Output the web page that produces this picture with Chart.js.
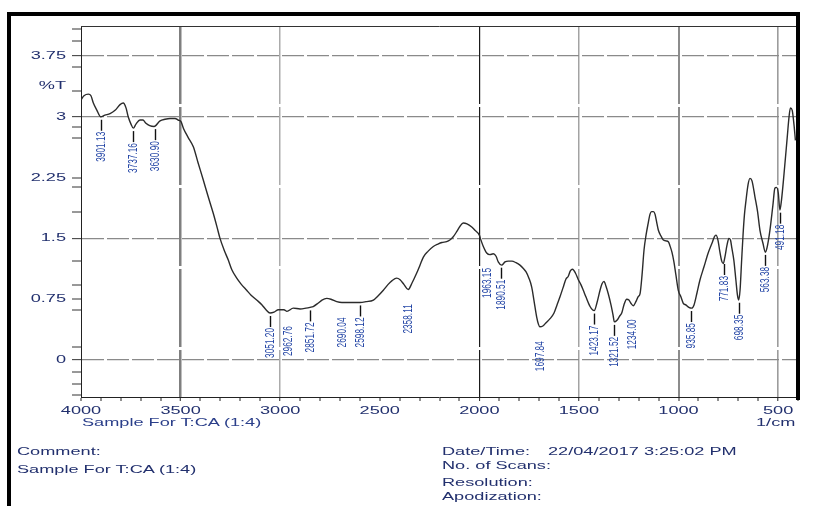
<!DOCTYPE html>
<html>
<head>
<meta charset="utf-8">
<script src="https://cdn.jsdelivr.net/npm/chart.js@4.4.1/dist/chart.umd.min.js"></script>
<style>
  html, body { margin: 0; padding: 0; background: #fff; width: 815px; height: 506px; overflow: hidden; }
  #wrap { position: relative; width: 815px; height: 506px; }
  #spectrum { position: absolute; left: 0; top: 0; }
  .frame { position: absolute; left: 7px; top: 12px; width: 793px; height: 520px; border-left: 4px solid #000; border-top: 4px solid #000; box-sizing: border-box; pointer-events: none; }
  .frame-right { position: absolute; left: 796px; top: 12px; width: 4px; height: 388px; background: #000; pointer-events: none; }
  .t { position: absolute; font: 11px "Liberation Sans", Arial, sans-serif; color: #22306e; transform: scaleX(1.65); transform-origin: 0 50%; white-space: nowrap; line-height: 12px; }
</style>
</head>
<body>
<div id="wrap">
  <canvas id="spectrum" width="815" height="506"></canvas>
  <div class="frame"></div>
  <div class="frame-right"></div>
  <div class="t" style="left:82px;top:416px;color:#2b3f8a">Sample For T:CA (1:4)</div>
  <div class="t" style="left:756px;top:416px">1/cm</div>
  <div class="t" style="left:17px;top:445px">Comment:</div>
  <div class="t" style="left:17px;top:463px">Sample For T:CA (1:4)</div>
  <div class="t" style="left:442px;top:445px">Date/Time:</div>
  <div class="t" style="left:548px;top:445px">22/04/2017 3:25:02 PM</div>
  <div class="t" style="left:442px;top:459px">No. of Scans:</div>
  <div class="t" style="left:442px;top:476px">Resolution:</div>
  <div class="t" style="left:442px;top:490px">Apodization:</div>
</div>
<script>
// IR transmittance spectrum, wavenumber (1/cm) vs %T
const wavenumbers = [
  4000,3985,3963,3950,3938,3920,3901,3880,3854,3829,
  3804,3788,3774,3763,3749,3737,3724,3704,3689,3674,
  3655,3633,3603,3578,3553,3528,3512,3498,3486,3463,
  3436,3413,3386,3362,3336,3317,3302,3282,3260,3242,
  3218,3197,3168,3146,3118,3091,3071,3051,3031,3009,
  2981,2966,2934,2900,2870,2850,2834,2810,2790,2766,
  2745,2716,2690,2659,2629,2599,2569,2532,2509,2482,
  2459,2438,2415,2398,2378,2357,2338,2315,2298,2281,
  2258,2231,2208,2188,2164,2148,2131,2112,2097,2081,
  2062,2038,2022,2000,1992,1980,1963,1947,1930,1916,
  1905,1888,1871,1855,1836,1816,1796,1779,1766,1751,
  1737,1726,1712,1703,1696,1681,1665,1645,1625,1610,
  1595,1580,1565,1554,1543,1532,1517,1503,1490,1478,
  1465,1444,1432,1423,1410,1394,1384,1374,1364,1353,
  1339,1329,1322,1309,1296,1285,1274,1260,1249,1239,
  1227,1214,1203,1193,1183,1173,1163,1152,1143,1135,
  1126,1118,1108,1101,1088,1076,1063,1051,1043,1033,
  1023,1013,1001,988,976,963,948,934,922,907,
  892,872,851,837,829,820,812,802,792,783,
  775,767,757,747,739,732,722,712,704,698,
  691,683,676,669,661,651,641,631,616,603,
  591,576,564,556,541,526,516,508,499,491,
  483,470,454,445,438,429,420,413
];
const transmittance = [
  3.21,3.26,3.28,3.26,3.17,3.08,3.00,3.02,3.04,3.08,
  3.15,3.17,3.11,3.00,2.91,2.86,2.91,2.96,2.96,2.92,
  2.89,2.88,2.95,2.97,2.98,2.98,2.96,2.94,2.86,2.75,
  2.63,2.44,2.22,2.02,1.81,1.64,1.50,1.36,1.23,1.11,
  1.01,0.94,0.86,0.80,0.74,0.68,0.62,0.58,0.59,0.62,
  0.62,0.60,0.64,0.63,0.64,0.65,0.66,0.70,0.74,0.76,
  0.75,0.72,0.71,0.71,0.71,0.71,0.72,0.74,0.79,0.86,
  0.93,0.98,1.01,0.99,0.93,0.87,0.95,1.07,1.17,1.27,
  1.34,1.40,1.43,1.45,1.46,1.48,1.52,1.59,1.65,1.69,
  1.68,1.64,1.60,1.54,1.48,1.40,1.32,1.30,1.31,1.28,
  1.21,1.17,1.21,1.22,1.22,1.20,1.17,1.13,1.09,1.01,
  0.90,0.74,0.53,0.44,0.41,0.42,0.46,0.51,0.58,0.68,
  0.78,0.89,1.00,1.03,1.10,1.12,1.07,0.99,0.93,0.86,
  0.78,0.66,0.62,0.61,0.70,0.86,0.94,0.97,0.91,0.82,
  0.68,0.56,0.47,0.49,0.54,0.58,0.68,0.75,0.74,0.70,
  0.67,0.72,0.78,0.82,1.05,1.36,1.54,1.69,1.80,1.83,
  1.83,1.80,1.68,1.60,1.53,1.48,1.47,1.46,1.41,1.33,
  1.21,1.05,0.86,0.78,0.70,0.68,0.65,0.64,0.68,0.83,
  0.99,1.15,1.32,1.41,1.46,1.52,1.54,1.48,1.33,1.22,
  1.19,1.27,1.41,1.50,1.48,1.38,1.23,0.99,0.80,0.74,
  0.86,1.23,1.54,1.79,1.97,2.16,2.24,2.21,2.01,1.83,
  1.60,1.44,1.33,1.38,1.60,1.91,2.12,2.13,2.06,1.85,
  1.97,2.30,2.75,3.00,3.11,3.08,2.90,2.71
];

// picked peaks (1/cm); the label text is the value itself
const peakWavenumbers = [3901.13, 3737.16, 3630.90, 3051.20, 2962.76, 2851.72, 2690.04, 2598.12,
  2358.11, 1963.15, 1890.51, 1697.84, 1423.17, 1321.52, 1234.00, 935.85, 771.83, 698.35, 563.38, 491.18];
// peaks printed without a leader line
const peaksWithoutLeader = [2962.76, 2690.04, 2358.11, 1963.15, 1697.84, 1234.00];

// axis ticks
const yTickValues = [3.75, 3, 2.25, 1.5, 0.75, 0];
const yTickLabels = ['3.75', '3', '2.25', '1.5', '0.75', '0'];
const yMinorTicks = [4.08, 3.93, 3.61, 3.32, 2.88, 2.74, 2.13, 1.82, 1.22, 0.93, 0.62, 0.16, -0.15, -0.29, -0.43];
const yGridValues = [3.75, 3, 1.5, 0];
const yUnitLabel = '%T';
const yUnitValue = 3.38;
const xTickValues = [4000, 3500, 3000, 2500, 2000, 1500, 1000, 500];
const xTickLabels = ['4000', '3500', '3000', '2500', '2000', '1500', '1000', '500'];

const TEXT_COLOR = '#22306e';
const STRETCH = 1.65;
const FONT = '"Liberation Sans", Arial, sans-serif';

// vertical grid line looks, keyed by wavenumber
const xGridStyle = {
  3500: { color: '#7f7f7f', width: 2.5 },
  3000: { color: '#ababab', width: 1.5 },
  2000: { color: '#1a1a1a', width: 1.2 },
  1500: { color: '#a3a3a3', width: 1.5 },
  1000: { color: '#8c8c8c', width: 2 },
  500:  { color: '#9c9c9c', width: 1.6 }
};

function transmittanceAt(w) {
  for (let i = 0; i < wavenumbers.length - 1; i++) {
    const a = wavenumbers[i], b = wavenumbers[i + 1];
    if (w <= a && w >= b) {
      const f = (a - w) / (a - b);
      return transmittance[i] + f * (transmittance[i + 1] - transmittance[i]);
    }
  }
  return transmittance[transmittance.length - 1];
}

function drawStretched(ctx, text, px, py, align) {
  ctx.save();
  ctx.translate(px, py);
  ctx.scale(STRETCH, 1);
  ctx.textAlign = align;
  ctx.textBaseline = 'middle';
  ctx.fillText(text, 0, 0);
  ctx.restore();
}

const labelPlugin = {
  id: 'spectrumLabels',
  afterDraw(chart) {
    const { ctx, chartArea: a, scales: { x, y } } = chart;
    ctx.save();
    // top edge of the plot box
    ctx.strokeStyle = '#333';
    ctx.lineWidth = 1;
    ctx.beginPath();
    ctx.moveTo(a.left, a.top + 0.5);
    ctx.lineTo(a.right, a.top + 0.5);
    ctx.stroke();

    // axis tick labels
    ctx.fillStyle = TEXT_COLOR;
    ctx.font = '11px ' + FONT;
    yTickValues.forEach((v, i) => drawStretched(ctx, yTickLabels[i], 66, y.getPixelForValue(v), 'right'));
    drawStretched(ctx, yUnitLabel, 66, y.getPixelForValue(yUnitValue), 'right');
    xTickValues.forEach((v, i) => drawStretched(ctx, xTickLabels[i], x.getPixelForValue(v), 411, 'center'));

    // peak annotations
    peakWavenumbers.forEach((w) => {
      const px = Math.round(x.getPixelForValue(w)) + 0.5;
      const cy = y.getPixelForValue(transmittanceAt(w));
      if (!peaksWithoutLeader.includes(w)) {
        ctx.strokeStyle = '#111';
        ctx.lineWidth = 1.4;
        ctx.beginPath();
        ctx.moveTo(px, cy + 3);
        ctx.lineTo(px, cy + 14);
        ctx.stroke();
      }
      ctx.save();
      ctx.translate(px, cy + 15);
      ctx.scale(STRETCH, 1);
      ctx.rotate(-Math.PI / 2);
      ctx.textAlign = 'right';
      ctx.textBaseline = 'middle';
      ctx.font = '8.3px ' + FONT;
      ctx.fillStyle = '#2446a6';
      ctx.fillText(w.toFixed(2), 0, 0);
      ctx.restore();
    });
    ctx.restore();
  }
};

new Chart(document.getElementById('spectrum'), {
  type: 'line',
  data: {
    datasets: [{
      data: wavenumbers.map((w, i) => ({ x: w, y: transmittance[i] })),
      borderColor: '#2b2b2b',
      borderWidth: 1.4,
      pointRadius: 0,
      cubicInterpolationMode: 'monotone',
      fill: false
    }]
  },
  options: {
    responsive: false,
    animation: false,
    devicePixelRatio: 1,
    layout: { padding: { left: 0, right: 17, top: 26, bottom: 0 } },
    plugins: { legend: { display: false }, tooltip: { enabled: false } },
    scales: {
      x: {
        type: 'linear',
        reverse: true,
        min: 400,
        max: 4000,
        afterBuildTicks: (s) => {
          const t = [];
          for (let v = 4000; v >= 400; v -= 100) t.push({ value: v });
          s.ticks = t;
        },
        afterFit: (s) => { s.height = 109; },
        ticks: { display: false },
        grid: {
          color: (c) => (c.tick && xGridStyle[c.tick.value]) ? xGridStyle[c.tick.value].color : 'rgba(0,0,0,0)',
          lineWidth: (c) => (c.tick && xGridStyle[c.tick.value]) ? xGridStyle[c.tick.value].width : 0,
          tickLength: 4,
          tickColor: '#222',
          tickWidth: 1
        },
        border: { display: true, color: '#222', width: 1, dash: [78, 3] }
      },
      y: {
        min: -0.456,
        max: 4.12,
        afterBuildTicks: (s) => {
          s.ticks = [...yTickValues, ...yMinorTicks].sort((p, q) => p - q).map((v) => ({ value: v }));
        },
        afterFit: (s) => { s.width = 81; },
        ticks: { display: false },
        grid: {
          color: (c) => (c.tick && yGridValues.includes(c.tick.value)) ? '#8a8a8a' : 'rgba(0,0,0,0)',
          lineWidth: (c) => (c.tick && yGridValues.includes(c.tick.value)) ? 1.3 : 0,
          tickLength: 9,
          tickColor: '#333',
          tickWidth: 1
        },
        border: { display: true, color: '#222', width: 1, dash: [22, 3] }
      }
    }
  },
  plugins: [labelPlugin]
});
</script>
</body>
</html>
